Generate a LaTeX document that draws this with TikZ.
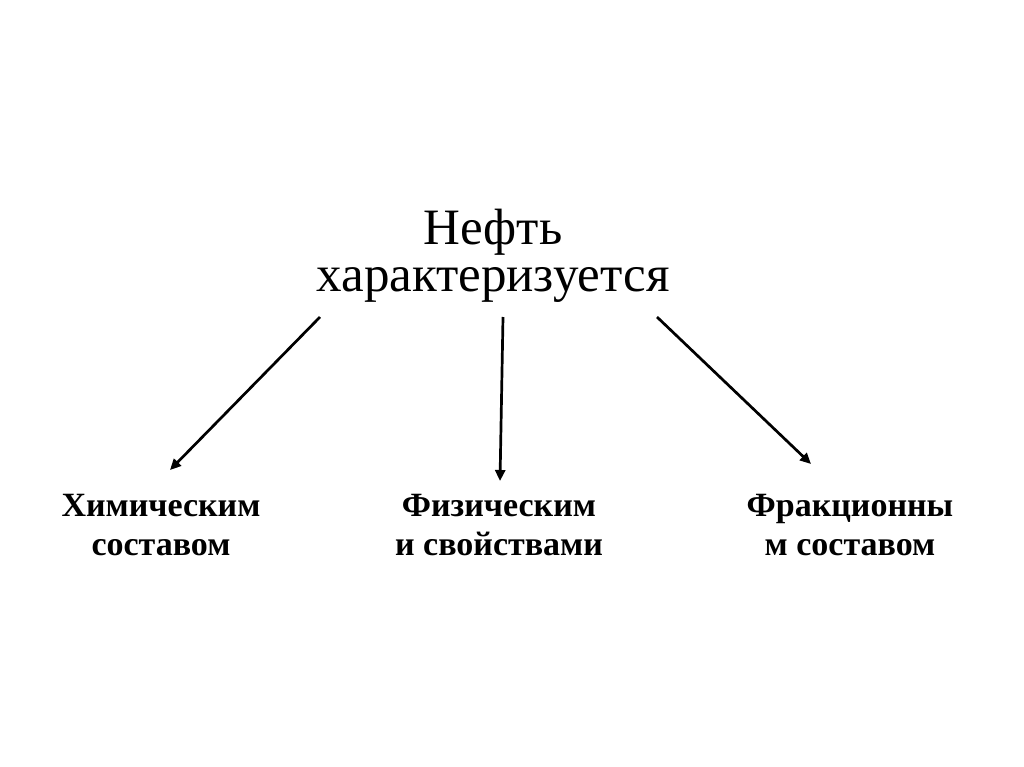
\documentclass[tikz,border=0pt]{standalone}
\usepackage{fontspec}
\setmainfont{Liberation Serif}
\usetikzlibrary{arrows.meta}
\begin{document}
\begin{tikzpicture}[x=1pt,y=-1pt,
  title/.style={align=center,inner sep=0pt,font=\fontsize{51}{47}\selectfont},
  label/.style={align=center,inner sep=0pt,font=\fontsize{34}{39}\selectfont\bfseries},
  conn/.style={line width=2.7pt,-{Triangle[length=11pt,width=10pt]}}]
\useasboundingbox[fill=white] (0,0) rectangle (1024,767);
\node[title,anchor=base] (t) at (493,291) {Нефть\\характеризуется};
\node[label,anchor=base] (a) at (161,555) {Химическим\\составом};
\node[label,anchor=base] (b) at (499,555) {Физическим\\и свойствами};
\node[label,anchor=base] (c) at (850,555) {Фракционны\\м составом};
\coordinate (ts1) at (320,317);
\coordinate (ts2) at (503,317);
\coordinate (ts3) at (657,317);
\coordinate (ae) at (170,470);
\coordinate (be) at (500,481);
\coordinate (ce) at (811,464);
\draw[conn] (ts1) -- (ae);
\draw[conn] (ts2) -- (be);
\draw[conn] (ts3) -- (ce);
\end{tikzpicture}
\end{document}
